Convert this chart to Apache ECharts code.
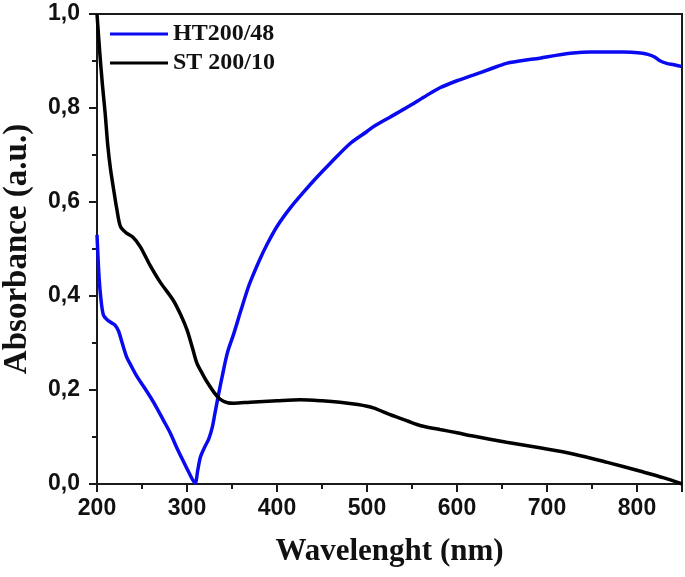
<!DOCTYPE html>
<html>
<head>
<meta charset="utf-8">
<script src="https://cdn.jsdelivr.net/npm/echarts@6/dist/echarts.min.js"></script>
<style>html,body{margin:0;padding:0;background:#fff;}#c{width:685px;height:577px;}</style>
</head>
<body>
<div id="c"></div>
<script>
// ---- data ----
const xTicks = [200, 300, 400, 500, 600, 700, 800];
const yTicks = [0.0, 0.2, 0.4, 0.6, 0.8, 1.0];
const seriesNames = ['HT200/48', 'ST 200/10'];

const htWave = [200,202,204,207,211,216,220,224,228,233,237,244,252,260,267,274,281,288,295,302,309,312,315,320,324,328,331,335,339,345,352,360,368,372,380,389,400,415,430,444,460,481,500,507,525,545,563,581,600,618,637,655,673,692,710,729,748,767,785,804,812,819,826,833,841,850];
const htAbs  = [0.53,0.45,0.40,0.36,0.35,0.343,0.338,0.325,0.30,0.27,0.255,0.23,0.207,0.183,0.16,0.135,0.11,0.08,0.052,0.025,0.002,0.03,0.058,0.08,0.095,0.12,0.15,0.19,0.228,0.28,0.32,0.37,0.418,0.438,0.474,0.51,0.548,0.588,0.622,0.652,0.684,0.724,0.75,0.76,0.78,0.802,0.823,0.843,0.858,0.87,0.883,0.895,0.901,0.906,0.912,0.917,0.919,0.919,0.919,0.917,0.914,0.909,0.90,0.895,0.892,0.888];

const stWave = [200,203,206,209,212,215,219,222,226,232,240,248,259,270,285,293,300,306,311,317,322,330,337,345,352,370,400,426,450,470,490,507,525,545,560,581,600,618,655,692,729,767,804,830,850];
const stAbs  = [1.0,0.92,0.85,0.79,0.72,0.67,0.62,0.585,0.548,0.535,0.525,0.505,0.465,0.43,0.39,0.36,0.328,0.29,0.257,0.235,0.218,0.195,0.18,0.173,0.172,0.174,0.177,0.179,0.177,0.174,0.169,0.162,0.148,0.134,0.124,0.116,0.109,0.102,0.089,0.077,0.064,0.046,0.027,0.013,0.0];

const pair = (xs, ys) => xs.map((x, i) => [x, ys[i]]);

const chart = echarts.init(document.getElementById('c'), null, {renderer: 'canvas'});
const axisColor = '#1a1a1a';
const tickFont = {fontFamily: 'Liberation Sans', fontWeight: 'bold', fontSize: 23, color: '#111'};

chart.setOption({
  animation: false,
  backgroundColor: '#fff',
  grid: {left: 97, right: 3, top: 14, bottom: 93, show: true, borderColor: axisColor, borderWidth: 2, containLabel: false, outerBoundsMode: 'none'},
  legend: {
    orient: 'vertical', left: 105, top: 17, itemWidth: 58, itemHeight: 3, itemGap: 5, icon: 'rect',
    textStyle: {fontFamily: 'Liberation Serif', fontWeight: 'bold', fontSize: 24, color: '#111'},
    data: seriesNames
  },
  xAxis: [{
    type: 'value', min: 200, max: 850, interval: 50,
    name: 'Wavelenght (nm)', nameLocation: 'middle', nameGap: 52,
    nameTextStyle: {fontFamily: 'Liberation Serif', fontWeight: 'bold', fontSize: 31, color: '#111'},
    axisLine: {show: true, onZero: false, lineStyle: {color: axisColor, width: 2}},
    axisTick: {show: true, length: 5, lineStyle: {color: axisColor, width: 2}},
    axisLabel: {margin: 13, ...tickFont, formatter: v => xTicks.includes(v) ? String(v) : ''},
    splitLine: {show: false}
  }, {
    type: 'value', min: 200, max: 850, interval: 100, position: 'bottom',
    axisLine: {show: false}, axisLabel: {show: false},
    axisTick: {show: true, length: 8, lineStyle: {color: axisColor, width: 2}},
    splitLine: {show: false}
  }],
  yAxis: {
    type: 'value', min: 0, max: 1, interval: 0.2,
    name: 'Absorbance (a.u.)', nameLocation: 'middle', nameGap: 63,
    nameTextStyle: {fontFamily: 'Liberation Serif', fontWeight: 'bold', fontSize: 33, color: '#111'},
    axisLine: {show: true, onZero: false, lineStyle: {color: axisColor, width: 2}},
    axisTick: {show: true, length: 8, lineStyle: {color: axisColor, width: 2}},
    minorTick: {show: true, splitNumber: 2, length: 5, lineStyle: {color: axisColor, width: 2}},
    axisLabel: {margin: 17, ...tickFont, formatter: v => yTicks.some(t => Math.abs(t - v) < 1e-9) ? v.toFixed(1).replace('.', ',') : ''},
    splitLine: {show: false}
  },
  series: [{
    name: seriesNames[0], type: 'line', xAxisIndex: 0, data: pair(htWave, htAbs),
    symbol: 'none', smooth: 0.3, lineStyle: {color: '#0a0af0', width: 3.5}, itemStyle: {color: '#0a0af0'}
  }, {
    name: seriesNames[1], type: 'line', xAxisIndex: 0, data: pair(stWave, stAbs),
    symbol: 'none', smooth: 0.3, lineStyle: {color: '#000', width: 3.5}, itemStyle: {color: '#000'}
  }]
});
</script>
</body>
</html>
